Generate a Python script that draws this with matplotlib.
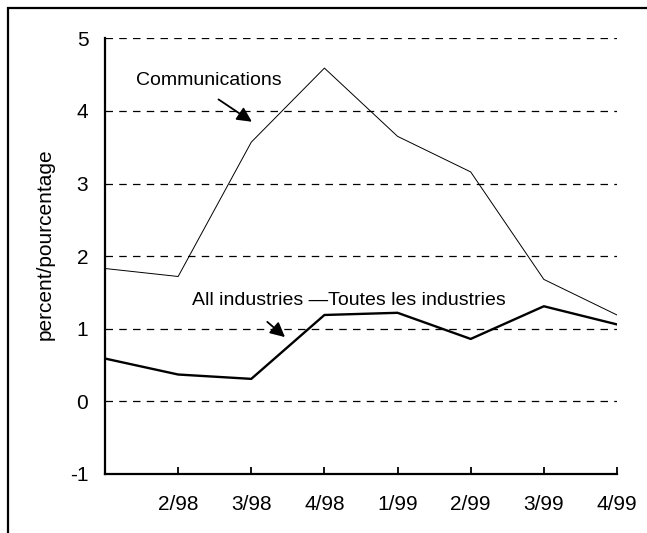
import matplotlib.pyplot as plt
from matplotlib.patches import Rectangle

plt.rcParams['font.family'] = ['Liberation Sans', 'DejaVu Sans']

# Quarters (first one is not labelled on the chart)
quarters = ['', '2/98', '3/98', '4/98', '1/99', '2/99', '3/99', '4/99']
communications = [1.83, 1.72, 3.57, 4.59, 3.65, 3.16, 1.68, 1.19]
all_industries = [0.59, 0.37, 0.31, 1.19, 1.22, 0.86, 1.31, 1.06]
y_ticks = [-1, 0, 1, 2, 3, 4, 5]

fig = plt.figure(figsize=(6.47, 5.33), dpi=100)
ax = fig.add_axes([0.1623, 0.1107, 0.7913, 0.8174])

x = list(range(len(quarters)))

# Gridlines
for v in y_ticks[1:]:
    ax.axhline(v, color='black', lw=0.9, dashes=(6, 5), zorder=1)

ax.plot(x, communications, color='black', lw=0.7, zorder=3)
ax.plot(x, all_industries, color='black', lw=1.7, zorder=3)

ax.set_xlim(0, len(quarters) - 1)
ax.set_ylim(-1, 5)
ax.set_xticks(x[1:])
ax.set_xticklabels(quarters[1:], fontsize=15)
ax.set_yticks(y_ticks)
ax.set_yticklabels([str(v) for v in y_ticks], fontsize=15)
ax.tick_params(axis='x', direction='in', length=5, width=1.3, pad=15)
ax.tick_params(axis='y', length=0, pad=12)

for s in ['top', 'right']:
    ax.spines[s].set_visible(False)
for s in ['left', 'bottom']:
    ax.spines[s].set_linewidth(1.6)

fig.text(45 / 647, 1 - 244 / 533, 'percent/pourcentage', rotation=90,
         ha='center', va='center', fontsize=15)

# Annotations
ax.text(1.417, 4.425, 'Communications', fontsize=14, ha='center', va='center')
ax.annotate('', xy=(2.04, 3.83), xytext=(1.52, 4.18),
            arrowprops=dict(arrowstyle='-|>', color='black', lw=1.3, mutation_scale=22))
ax.text(5.486, 1.386, 'All industries \u2014Toutes les industries', fontsize=14,
        ha='right', va='center')
ax.annotate('', xy=(2.49, 0.86), xytext=(2.19, 1.12),
            arrowprops=dict(arrowstyle='-|>', color='black', lw=1.3, mutation_scale=22))

# Outer frame (runs past right and bottom edges)
fig.patches.append(Rectangle((8 / 647, -0.05), 1.1, 1 - 8 / 533 + 0.05,
                             transform=fig.transFigure, fill=False,
                             edgecolor='black', lw=1.6))

fig.savefig('out.png', dpi=100)
